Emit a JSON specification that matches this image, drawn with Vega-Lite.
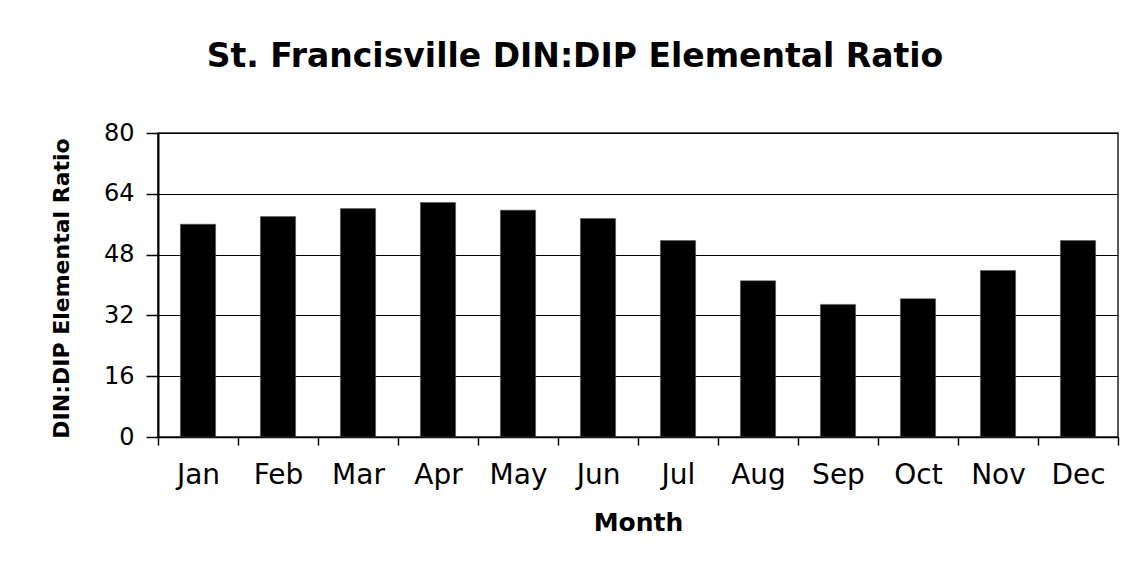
{
  "$schema": "https://vega.github.io/schema/vega-lite/v6.json",
  "autosize": "none",
  "width": 960,
  "height": 304,
  "padding": {"left": 158, "top": 133, "right": 8, "bottom": 126},
  "background": "white",
  "config": {
    "font": "DejaVu Sans",
    "view": {"stroke": "#222222", "strokeWidth": 1.5},
    "axis": {"domainColor": "black", "tickColor": "black", "gridColor": "black", "gridOpacity": 1, "labelColor": "black", "titleColor": "black"}
  },
  "title": {
    "text": "St. Francisville DIN:DIP Elemental Ratio",
    "font": "DejaVu Sans",
    "fontSize": 33,
    "fontWeight": "bold",
    "color": "black",
    "anchor": "middle",
    "frame": "group",
    "baseline": "alphabetic",
    "dx": -63,
    "offset": 21
  },
  "data": {
    "values": [
      {"Month": "Jan", "Ratio": 56.0},
      {"Month": "Feb", "Ratio": 58.0},
      {"Month": "Mar", "Ratio": 60.1},
      {"Month": "Apr", "Ratio": 61.7},
      {"Month": "May", "Ratio": 59.7},
      {"Month": "Jun", "Ratio": 57.5},
      {"Month": "Jul", "Ratio": 51.7},
      {"Month": "Aug", "Ratio": 41.1},
      {"Month": "Sep", "Ratio": 34.9},
      {"Month": "Oct", "Ratio": 36.4},
      {"Month": "Nov", "Ratio": 43.8},
      {"Month": "Dec", "Ratio": 51.7}
    ]
  },
  "mark": {"type": "bar", "color": "black", "stroke": "#555555", "strokeWidth": 0.5, "width": {"band": 0.44}},
  "encoding": {
    "x": {
      "field": "Month",
      "type": "nominal",
      "sort": null,
      "scale": {"paddingInner": 0, "paddingOuter": 0},
      "axis": {
        "title": "Month",
        "titleFontSize": 25,
        "titleFontWeight": "bold",
        "titleBaseline": "alphabetic",
        "titleY": 93,
        "labelAngle": 0,
        "labelFontSize": 28,
        "labelFontWeight": "normal",
        "labelBaseline": "alphabetic",
        "labelPadding": 38,
        "tickSize": 8,
        "tickBand": "extent",
        "domainWidth": 1.5,
        "tickWidth": 1.5,
        "grid": false
      }
    },
    "y": {
      "field": "Ratio",
      "type": "quantitative",
      "scale": {"domain": [0, 80], "nice": false},
      "axis": {
        "title": "DIN:DIP Elemental Ratio",
        "titleFontSize": 22,
        "titleFontWeight": "bold",
        "titleAngle": -90,
        "titleBaseline": "alphabetic",
        "titleX": -90,
        "titleY": 155,
        "titleAlign": "center",
        "values": [0, 16, 32, 48, 64, 80],
        "labelFontSize": 24,
        "labelPadding": 12,
        "tickSize": 12,
        "tickWidth": 1.5,
        "domainWidth": 2,
        "grid": true,
        "gridWidth": 1.2
      }
    }
  }
}
